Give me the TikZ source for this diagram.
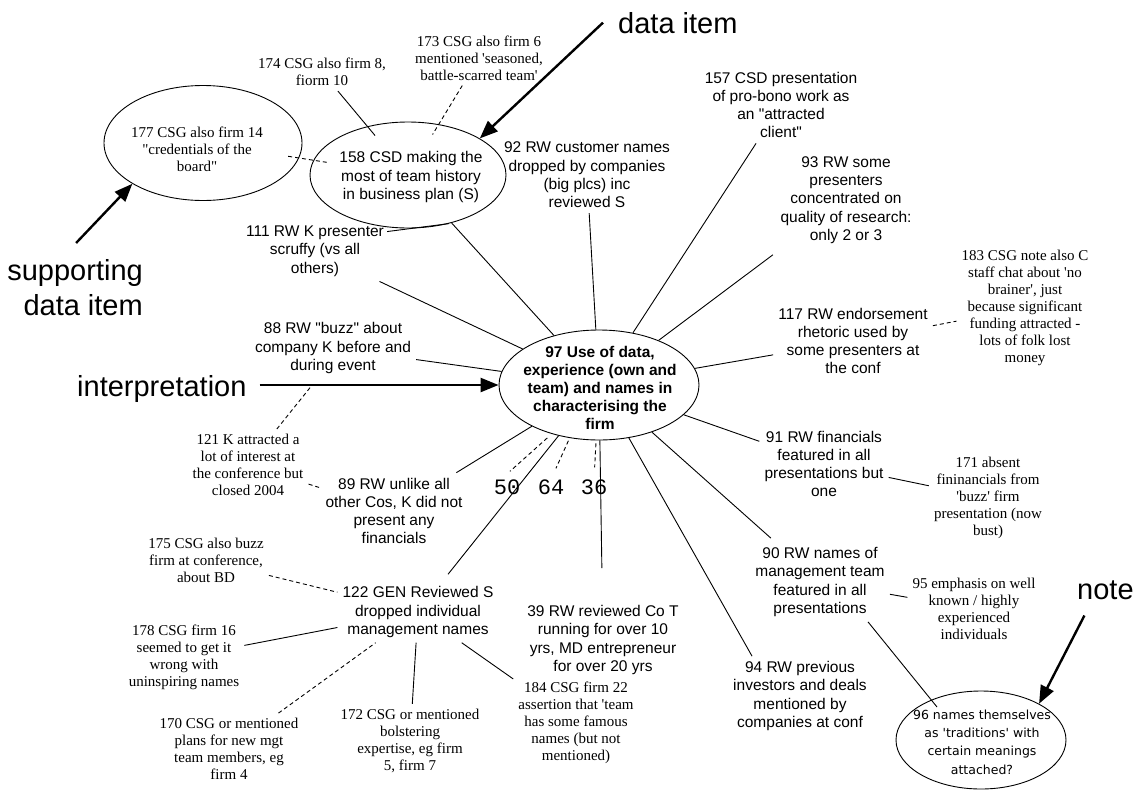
\documentclass[tikz,border=0pt]{standalone}
\usepackage{fontspec}
\newfontfamily\arialf{Liberation Sans}
\newfontfamily\tnrf{Liberation Serif}
\newfontfamily\dvsf{DejaVu Sans}
\newfontfamily\monof{Liberation Mono}
\usetikzlibrary{shapes.geometric,arrows.meta,calc}

\tikzset{
  sans/.style={font=\arialf\fontsize{15.5}{18.3}\selectfont, align=center, inner sep=5pt},
  serif/.style={font=\tnrf\fontsize{15}{17}\selectfont, align=center, inner sep=5pt},
  big/.style={font=\arialf\fontsize{29}{35}\selectfont, inner sep=0pt},
  num/.style={font=\monof\fontsize{22}{24}\selectfont, inner sep=0pt},
  oval/.style={ellipse, draw, line width=0.9pt, inner sep=0pt},
  link/.style={line width=0.9pt},
  dlink/.style={line width=0.9pt, dash pattern=on 4pt off 3pt},
  pointer/.style={line width=2.4pt, -{Triangle[length=18pt,width=14pt]}},
}

\begin{document}
\begin{tikzpicture}[x=1pt,y=-1pt]
\fill[white] (0,0) rectangle (1141,790);
\useasboundingbox (0,0) rectangle (1141,790);

% central interpretation
\node[oval, minimum width=200pt, minimum height=110pt] (c) at (599,385) {};
\node[font=\arialf\bfseries\fontsize{15.5}{18}\selectfont, align=center, inner sep=0pt] (cT) at (600,388)
  {97 Use of data,\\experience (own and\\team) and names in\\characterising the\\firm};

% ovals with their texts
\node[oval, minimum width=198pt, minimum height=115pt] (n177e) at (203,143) {};
\node[serif] (n177) at (197,149) {177 CSG also firm 14\\"credentials of the\\board"};
\node[oval, minimum width=196pt, minimum height=106pt] (n158e) at (408,175) {};
\node[sans] (n158) at (411,177) {158 CSD making the\\most of team history\\in business plan (S)};
\node[oval, minimum width=170pt, minimum height=98pt] (n96e) at (981,740) {};
\node[font=\dvsf\fontsize{12.5}{18.3}\selectfont, align=center, inner sep=0pt] (n96) at (982,742)
  {96 names themselves\\as \textquotesingle traditions\textquotesingle{} with\\certain meanings\\attached?};

% data items
\node[serif] (n174) at (322,72) {174 CSG also firm 8,\\fiorm 10};
\node[serif] (n173) at (479,58) {173 CSG also firm 6\\mentioned 'seasoned,\\battle-scarred team'};
\node[sans] (n92) at (587,175) {92 RW customer names\\dropped by companies\\(big plcs) inc\\reviewed S};
\node[sans] (n157) at (781,105) {157 CSD presentation\\of pro-bono work as\\an "attracted\\client"};
\node[sans] (n93) at (846,200) {93 RW some\\presenters\\concentrated on\\quality of research:\\only 2 or 3};
\node[serif] (n183) at (1025,308) {183 CSG note also C\\staff chat about 'no\\brainer', just\\because significant\\funding attracted -\\lots of folk lost\\money};
\node[sans] (n117) at (853,341) {117 RW endorsement\\rhetoric used by\\some presenters at\\the conf};
\node[sans] (n111) at (315,251) {111 RW K presenter\\scruffy (vs all\\others)};
\node[sans] (n88) at (333,348) {88 RW "buzz" about\\company K before and\\during event};
\node[serif] (n121) at (248,465) {121 K attracted a\\lot of interest at\\the conference but\\closed 2004};
\node[sans] (n89) at (394,511) {89 RW unlike all\\other Cos, K did not\\present any\\financials};
\node[num] (n50) at (507,487) {50};
\node[num] (n64) at (551,487) {64};
\node[num] (n36) at (594,487) {36};
\node[sans] (n91) at (824,464) {91 RW financials\\featured in all\\presentations but\\one};
\node[serif] (n171) at (988,498) {171 absent\\fininancials from\\'buzz' firm\\presentation (now\\bust)};
\node[sans] (n90) at (820,582) {90 RW names of\\management team\\featured in all\\presentations};
\node[serif] (n95) at (974,609) {95 emphasis on well\\known / highly\\experienced\\individuals};
\node[sans] (n94) at (800,696) {94 RW previous\\investors and deals\\mentioned by\\companies at conf};
\node[sans] (n39) at (603,640) {39 RW reviewed Co T\\running for over 10\\yrs, MD entrepreneur\\for over 20 yrs};
\node[sans] (n122) at (418,612) {122 GEN Reviewed S\\dropped individual\\management names};
\node[serif] (n175) at (206,560) {175 CSG also buzz\\firm at conference,\\about BD};
\node[serif] (n178) at (184,657) {178 CSG firm 16\\seemed to get it\\wrong with\\uninspiring names};
\node[serif] (n170) at (229,749) {170 CSG or mentioned\\plans for new mgt\\team members, eg\\firm 4};
\node[serif] (n172) at (410,741) {172 CSG or mentioned\\bolstering\\expertise, eg firm\\5, firm 7};
\node[serif] (n184) at (576,723) {184 CSG firm 22\\assertion that 'team\\has some famous\\names (but not\\mentioned)};

% category labels
\node[big, anchor=base west] (lData) at (618,33) {data item};
\node[big, align=right, anchor=north east] (lSup) at (143,259) {supporting\\data item};
\node[big, anchor=base west] (lInterp) at (77,396) {interpretation};
\node[big, anchor=base west] (lNote) at (1077,599) {note};

% spokes from the interpretation
\draw[link] (c) -- (n158e);
\draw[link] (c) -- (n92);
\draw[link] (c) -- (n157);
\draw[link, shorten >=10pt] (c) -- (n93);
\draw[link] (c) -- (n117);
\draw[link] (c) -- (n111);
\draw[link] (c) -- (n88);
\draw[link] (c) -- (n91);
\draw[link, shorten >=6pt] (c) -- (n90);
\draw[link] (c) -- ($(n94.north west)+(24,0)$);
\draw[link, shorten >=32pt] (c) -- (n39);
\draw[link, shorten >=9pt] (c) -- (n122);
\draw[link] (c) -- (n89);
\draw[dlink, shorten <=6pt, shorten >=12pt] (c.226) -- ($(n50.north)+(-6,0)$);
\draw[dlink, shorten <=3pt, shorten >=12pt] (c.241) -- (n64.north);
\draw[dlink, shorten <=3pt, shorten >=12pt] (c.267) -- (n36.north);

% links between items
\draw[link, shorten >=-12pt] (n174) -- (n158e);
\draw[dlink, shorten >=-12pt] (n173) -- (n158e);
\draw[dlink, shorten <=-11pt, shorten >=-16pt] (n177e) -- (n158e);
\draw[link] ($(n111.north east)+(-2,11)$) -- (n158e.-50);
\draw[dlink] (n117) -- (n183);
\draw[link] (n91) -- (n171);
\draw[link] (n90) -- (n95);
\draw[link] ($(n90.south)+(48,0)$) -- ($(n96e.center)+(-44,-33)$);
\draw[dlink] (n175) -- (n122);
\draw[link] (n178) -- (n122);
\draw[dlink] (n170) -- (n122);
\draw[link] (n172) -- (n122);
\draw[link] (n184) -- (n122);
\draw[dlink] (n121) -- (n89);

% label pointers
\draw[pointer] ($(lData.west)+(-15,0)$) -- (n158e.27);
\draw[pointer] ($(lSup.north)+(1,-16)$) -- (n177e.210);
\draw[pointer, shorten <=13pt] (c.west -| lInterp.east) -- (c.west);
\coordinate (ia) at ($(c.west -| lInterp.east)!0.26!(c.west)$);
\draw[dlink] (n121) -- (ia);
\draw[pointer] ($(lNote.south)+(-21,16)$) -- (n96e.32);
\end{tikzpicture}
\end{document}
